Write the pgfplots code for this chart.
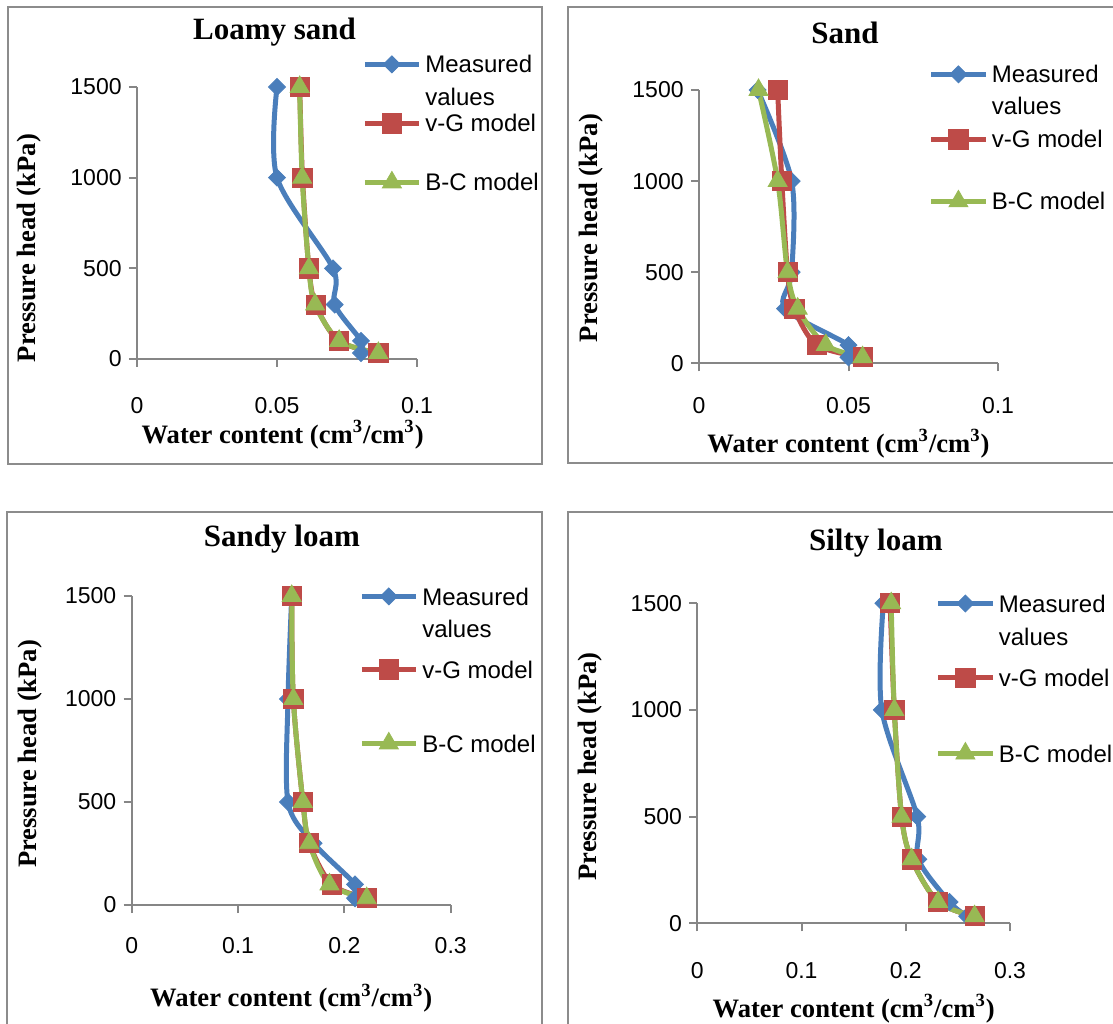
\documentclass[border=0pt]{standalone}
\usepackage{fontspec}
\setmainfont{Liberation Sans}
\newfontfamily\tnr{Liberation Serif}
\usepackage{pgfplots}
\pgfplotsset{compat=1.18}

\definecolor{mblue}{HTML}{4A7EBB}
\definecolor{mred}{HTML}{BE4B48}
\definecolor{mgreen}{HTML}{98B954}
\definecolor{axgray}{HTML}{868686}
\definecolor{framegray}{HTML}{8C8C8C}

% strut for legend rows: depth 3pt, height #1
\newcommand\lgs[1]{\rule[-3pt]{0pt}{#1}}
\newcommand\wclabel{Water content (cm\textsuperscript{3}/cm\textsuperscript{3})}

\pgfplotsset{
  soilpanel/.style={
    scale only axis, anchor=south west, clip=false,
    axis lines*=left,
    axis line style={draw=axgray, line width=1pt},
    tick style={draw=axgray, line width=1pt},
    tick align=outside, major tick length=4pt,
    ymin=0, ymax=1500, ytick={0,500,1000,1500},
    yticklabels={0,500,1000,1500},
    tick label style={font=\fontsize{11.5}{13}\selectfont},
    yticklabel style={anchor=east, inner sep=0pt, xshift=-3.5pt},
    xticklabel style={anchor=north, inner sep=0pt},
    title style={anchor=base, inner sep=0pt, font=\tnr\bfseries\fontsize{15.5}{18}\selectfont},
    xlabel style={anchor=base, inner sep=0pt, font=\tnr\bfseries\fontsize{13.3}{15}\selectfont},
    ylabel style={anchor=base, inner sep=0pt, font=\tnr\bfseries\fontsize{13.3}{15}\selectfont},
    xlabel={\wclabel}, ylabel={Pressure head (kPa)},
    legend style={draw=none, fill=none, inner sep=0pt, outer sep=0pt,
      row sep=0pt, column sep=2pt, anchor=north west,
      font=\fontsize{12}{14}\selectfont,
      nodes={inner sep=0pt, text depth=3pt},
      cells={anchor=base west}},
    legend image code/.code={%
      \draw[mark repeat=2,mark phase=2,#1]
        plot coordinates {(0pt,4.3pt) (13.5pt,4.3pt) (27pt,4.3pt)};},
  },
  measured/.style={color=mblue, line width=2.5pt, smooth, tension=0.5,
    mark=diamond*, mark size=4.25pt,
    mark options={xscale=1.33, line width=0.4pt, fill=mblue}},
  vgmodel/.style={color=mred, line width=2.5pt, smooth, tension=0.5,
    mark=square*, mark size=4.8pt,
    mark options={line width=0.4pt, fill=mred}},
  bcmodel/.style={color=mgreen, line width=2.5pt, smooth, tension=0.5,
    mark=triangle*, mark size=5.5pt,
    mark options={line width=0.4pt, fill=mgreen}},
}

\begin{document}
\begin{tikzpicture}
\path[use as bounding box] (0,0) rectangle (556.5pt,511.5pt);

% panel frames
\draw[framegray, line width=1pt] (4pt,279.5pt) rectangle (271pt,508pt);
\draw[framegray, line width=1pt] (560pt,508pt) -- (283.85pt,508pt) -- (283.85pt,279.85pt) -- (560pt,279.85pt);
\draw[framegray, line width=1pt] (3.65pt,-2pt) -- (3.65pt,255.65pt) -- (271.15pt,255.65pt) -- (271.15pt,-2pt);
\draw[framegray, line width=1pt] (283.85pt,-2pt) -- (283.85pt,255.5pt) -- (560pt,255.5pt);

% Loamy sand
\begin{axis}[soilpanel, at={(68.5pt,332pt)}, width=140pt, height=136pt,
  xmin=0, xmax=0.1, xtick={0,0.05,0.1}, xticklabels={0,0.05,0.1},
  xticklabel style={yshift=-15pt},
  title={Loamy sand},
  title style={at={(axis description cs:0.491,1.129)}},
  xlabel style={at={(axis description cs:0.52,-0.309)}},
  ylabel style={at={(axis description cs:-0.364,0.408)}},
  legend style={at={(axis description cs:0.805,1.125)}}]
\addplot[measured] coordinates {(0.050,1500) (0.050,1000) (0.070,500) (0.0706,300) (0.080,100) (0.080,33)};
\addlegendentry{\lgs{13pt}Measured}
\addlegendimage{empty legend}
\addlegendentry{\lgs{16.5pt}values}
\addplot[vgmodel] coordinates {(0.0581,1500) (0.0591,1000) (0.0614,500) (0.0638,300) (0.0720,100) (0.0862,33)};
\addlegendentry{\lgs{13pt}v-G model}
\addplot[bcmodel] coordinates {(0.0581,1500) (0.0590,1000) (0.0614,500) (0.0636,300) (0.0722,100) (0.0862,33)};
\addlegendentry{\lgs{29.5pt}B-C model}
\end{axis}

% Sand
\begin{axis}[soilpanel, at={(349.5pt,329.85pt)}, width=149.5pt, height=136.65pt,
  xmin=0, xmax=0.1, xtick={0,0.05,0.1}, xticklabels={0,0.05,0.1},
  xticklabel style={yshift=-13pt},
  title={Sand},
  title style={at={(axis description cs:0.488,1.125)}},
  xlabel style={at={(axis description cs:0.5,-0.325)}},
  ylabel style={at={(axis description cs:-0.341,0.495)}},
  legend style={at={(axis description cs:0.769,1.099)}}]
\addplot[measured] coordinates {(0.0196,1500) (0.0310,1000) (0.0310,500) (0.0288,300) (0.0500,100) (0.0500,33)};
\addlegendentry{\lgs{13pt}Measured}
\addlegendimage{empty legend}
\addlegendentry{\lgs{16pt}values}
\addplot[vgmodel] coordinates {(0.0263,1500) (0.0277,1000) (0.0296,500) (0.0319,300) (0.0394,100) (0.0547,33)};
\addlegendentry{\lgs{16.5pt}v-G model}
\addplot[bcmodel] coordinates {(0.0199,1500) (0.0263,1000) (0.0296,500) (0.0330,300) (0.0424,100) (0.0547,33)};
\addlegendentry{\lgs{31pt}B-C model}
\end{axis}

% Sandy loam
\begin{axis}[soilpanel, at={(65.85pt,59pt)}, width=159.5pt, height=154.5pt,
  xmin=0, xmax=0.3, xtick={0,0.1,0.2,0.3}, xticklabels={0,0.1,0.2,0.3},
  xticklabel style={yshift=-12pt},
  title={Sandy loam},
  title style={at={(axis description cs:0.471,1.120)}},
  xlabel style={at={(axis description cs:0.5,-0.330)}},
  ylabel style={at={(axis description cs:-0.297,0.489)}},
  legend style={at={(axis description cs:0.7135,1.0356)}}]
\addplot[measured] coordinates {(0.1505,1500) (0.147,1000) (0.147,500) (0.171,300) (0.210,100) (0.210,33)};
\addlegendentry{\lgs{13pt}Measured}
\addlegendimage{empty legend}
\addlegendentry{\lgs{16pt}values}
\addplot[vgmodel] coordinates {(0.1505,1500) (0.152,1000) (0.161,500) (0.167,300) (0.188,100) (0.221,33)};
\addlegendentry{\lgs{20.5pt}v-G model}
\addplot[bcmodel] coordinates {(0.1505,1500) (0.152,1000) (0.161,500) (0.167,300) (0.186,100) (0.221,33)};
\addlegendentry{\lgs{37pt}B-C model}
\end{axis}

% Silty loam
\begin{axis}[soilpanel, at={(348.65pt,49.85pt)}, width=156.35pt, height=160pt,
  xmin=0, xmax=0.3, xtick={0,0.1,0.2,0.3}, xticklabels={0,0.1,0.2,0.3},
  xticklabel style={yshift=-15.5pt},
  title={Silty loam},
  title style={at={(axis description cs:0.571,1.129)}},
  xlabel style={at={(axis description cs:0.5,-0.293)}},
  ylabel style={at={(axis description cs:-0.321,0.49)}},
  legend style={at={(axis description cs:0.763,1.035)}}]
\addplot[measured] coordinates {(0.1785,1500) (0.177,1000) (0.211,500) (0.212,300) (0.242,100) (0.259,33)};
\addlegendentry{\lgs{13pt}Measured}
\addlegendimage{empty legend}
\addlegendentry{\lgs{16.5pt}values}
\addplot[vgmodel] coordinates {(0.185,1500) (0.189,1000) (0.196,500) (0.2057,300) (0.231,100) (0.266,33)};
\addlegendentry{\lgs{20.5pt}v-G model}
\addplot[bcmodel] coordinates {(0.186,1500) (0.189,1000) (0.196,500) (0.2057,300) (0.231,100) (0.266,33)};
\addlegendentry{\lgs{38pt}B-C model}
\end{axis}
\end{tikzpicture}
\end{document}
